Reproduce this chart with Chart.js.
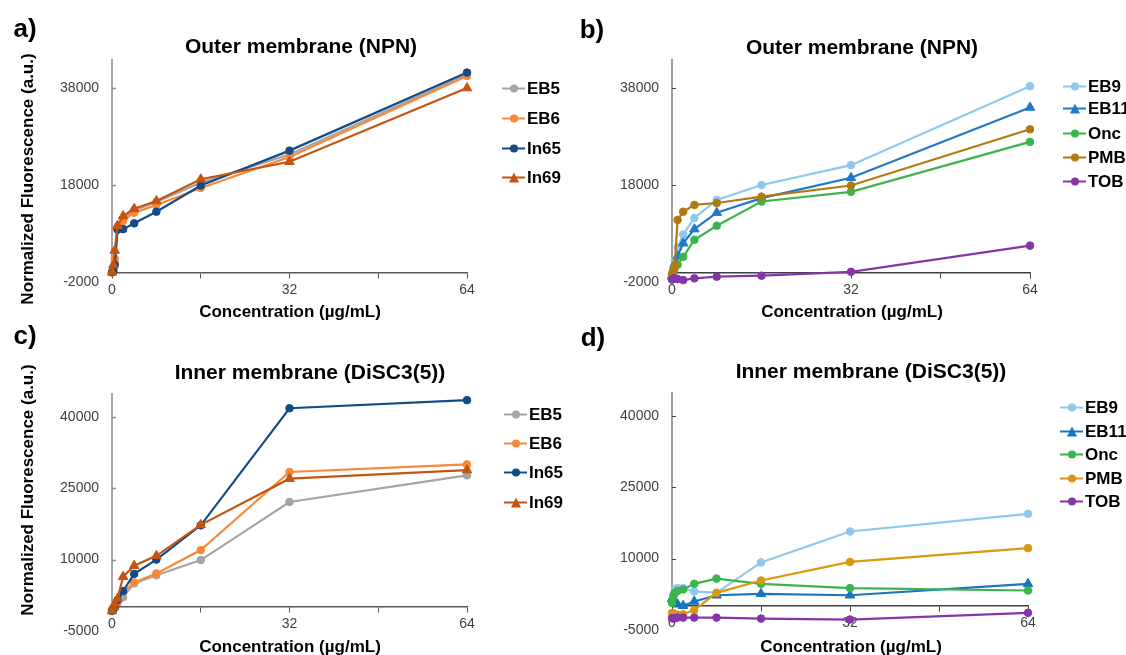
<!DOCTYPE html>
<html>
<head>
<meta charset="utf-8">
<script src="https://cdn.jsdelivr.net/npm/chart.js@4.4.0/dist/chart.umd.min.js"></script>
<style>
    body { margin: 0; background: #fff; }
    #wrap { position: relative; width: 1126px; height: 655px; overflow: hidden; font-family: "Liberation Sans", Arial, sans-serif; }
    #wrap canvas { position: absolute; left: 0; top: 0; }
    .lbl { position: absolute; font-weight: bold; color: #000; white-space: nowrap; transform: translate(-50%, -50%); line-height: 1; }
    .letter { font-size: 26px; }
    .title { font-size: 21px; }
    .xt { font-size: 17px; }
    .yt { font-size: 17px; transform: translate(-50%, -50%) rotate(-90deg); }
    .leg { position: absolute; font-size: 17px; font-weight: bold; white-space: nowrap; transform: translateY(-50%); display: flex; align-items: center; line-height: 1; }
    .leg .ln { position: relative; width: 23px; height: 2px; margin-right: 2px; }
    .leg .mk { position: absolute; left: 50%; top: 50%; transform: translate(-50%, -50%); }
</style>
</head>
<body>
<div id="wrap">
    <canvas id="chartA" width="1126" height="655"></canvas>
    <canvas id="chartB" width="1126" height="655"></canvas>
    <canvas id="chartC" width="1126" height="655"></canvas>
    <canvas id="chartD" width="1126" height="655"></canvas>
</div>
<script>
// Konsentrasi (µg/mL) dan tick sumbu
const concentrations = [0, 0.25, 0.5, 1, 2, 4, 8, 16, 32, 64];
const xTicks = [0, 16, 32, 48, 64];
const xLabelled = [0, 32, 64];
const yTicksOuter = [-2000, 18000, 38000];
const yTicksInner = [-5000, 10000, 25000, 40000];

// a) Outer membrane (NPN)
const outerEB5  = [0, 800, 2000, 9000, 11000, 12800, 14500, 18500, 24300, 40800];
const outerEB6  = [0, 1000, 2800, 9500, 10600, 12300, 13900, 17400, 23800, 40500];
const outerIn65 = [0, 300, 1500, 8800, 8900, 10100, 12500, 17900, 25100, 41200];
const outerIn69 = [0, 1500, 4500, 9600, 11600, 13100, 14700, 19200, 22800, 38000];

// b) Outer membrane (NPN)
const outerEB9  = [-500, 1000, 2500, 5100, 7800, 11200, 14900, 18000, 22100, 38400];
const outerEB11 = [-800, 500, 1500, 3300, 6000, 8900, 12300, 15300, 19500, 34000];
const outerOnc  = [-1000, 300, 900, 1600, 3200, 6700, 9600, 14600, 16600, 26900];
const outerPMB  = [-300, 500, 1500, 10800, 12500, 13900, 14300, 15600, 17900, 29500];
const outerTOB  = [-1500, -1300, -1200, -1400, -1600, -1250, -900, -700, 100, 5500];

// c) Inner membrane (DiSC3(5))
const innerEB5  = [-500, 0, 500, 1000, 2100, 5000, 6700, 9900, 22100, 27700];
const innerEB6  = [-500, -300, 0, 1000, 3200, 5200, 7100, 12000, 28400, 30000];
const innerIn65 = [-800, -400, 0, 1500, 3400, 7000, 10000, 17200, 41800, 43500];
const innerIn69 = [-800, 0, 700, 1800, 6400, 8700, 10800, 17300, 27000, 28800];

// d) Inner membrane (DiSC3(5))
const innerEB9  = [1000, 2500, 3500, 3800, 3800, 3100, 2800, 9200, 15700, 19400];
const innerEB11 = [1500, 1200, 700, 400, 100, 1000, 2300, 2600, 2300, 4700];
const innerOnc  = [700, 2000, 2800, 3200, 3500, 4700, 5800, 4700, 3800, 3300];
const innerPMB  = [-1400, -1500, -1700, -1800, -1700, -800, 2800, 5400, 9300, 12200];
const innerTOB  = [-2500, -2600, -2500, -2400, -2400, -2400, -2400, -2600, -2800, -1400];

// garis sumbu Y (berhenti di y = 0) dan tick ke dalam
const axisLines = {
    id: 'axisLines',
    beforeDatasetsDraw(chart, args, opts) {
        const { ctx, chartArea } = chart;
        const y = chart.scales.y;
        const y0 = y.getPixelForValue(0);
        ctx.save();
        ctx.strokeStyle = opts.color;
        ctx.lineWidth = opts.width;
        ctx.beginPath();
        ctx.moveTo(chartArea.left, chartArea.top);
        ctx.lineTo(chartArea.left, y0);
        y.ticks.forEach(t => {
            if (t.value > 0) {
                const py = Math.round(y.getPixelForValue(t.value)) + 0.5;
                ctx.moveTo(chartArea.left, py);
                ctx.lineTo(chartArea.left + 4, py);
            }
        });
        ctx.stroke();
        ctx.restore();
    }
};

function series(label, values, color, shape) {
    return { label, values, color, shape };
}

function makePanel(id, area, yMin, yMax, yTicks, list, axis) {
    const n = list.length;
    const datasets = list.map((s, i) => ({
        label: s.label,
        data: concentrations.map((c, k) => ({ x: c, y: s.values[k] })),
        borderColor: s.color,
        backgroundColor: s.color,
        pointBackgroundColor: s.color,
        pointBorderColor: s.color,
        pointStyle: s.shape,
        pointRadius: s.shape === 'triangle' ? 5.5 : 3.8,
        pointBorderWidth: 1,
        borderWidth: 2.2,
        tension: 0,
        clip: false,
        order: n - i
    }));

    new Chart(document.getElementById(id), {
        type: 'line',
        data: { datasets },
        options: {
            responsive: false,
            animation: false,
            layout: { padding: { left: 0, top: area.top, right: 1126 - area.right, bottom: 655 - area.bottom } },
            plugins: {
                legend: { display: false },
                tooltip: { enabled: false },
                axisLines: { color: axis.y, width: axis.yWidth }
            },
            scales: {
                x: {
                    type: 'linear',
                    position: { y: 0 },
                    min: 0,
                    max: 64,
                    afterBuildTicks: s => { s.ticks = xTicks.map(v => ({ value: v })); },
                    grid: { display: true, drawOnChartArea: false, drawTicks: true, tickLength: 5, color: axis.x, lineWidth: 1 },
                    border: { display: true, color: axis.x, width: 1.5 },
                    ticks: {
                        padding: 4,
                        maxRotation: 0,
                        autoSkip: false,
                        color: '#404040',
                        font: { family: '"Liberation Sans", Arial, sans-serif', size: 14 },
                        callback: v => xLabelled.includes(v) ? String(v) : ''
                    }
                },
                y: {
                    type: 'linear',
                    min: yMin,
                    max: yMax,
                    afterBuildTicks: s => { s.ticks = yTicks.map(v => ({ value: v })); },
                    afterFit: s => { s.width = area.left; },
                    grid: { display: false, drawTicks: false },
                    border: { display: false },
                    ticks: {
                        padding: 13,
                        color: '#404040',
                        font: { family: '"Liberation Sans", Arial, sans-serif', size: 14 },
                        callback: v => String(v)
                    }
                }
            }
        },
        plugins: [axisLines]
    });
}

function addText(cls, text, x, y) {
    const el = document.createElement('div');
    el.className = 'lbl ' + cls;
    el.textContent = text;
    el.style.left = x + 'px';
    el.style.top = y + 'px';
    document.getElementById('wrap').appendChild(el);
}

function addLegend(list, x, ys) {
    list.forEach((s, i) => {
        const item = document.createElement('div');
        item.className = 'leg';
        item.style.left = x + 'px';
        item.style.top = ys[i] + 'px';
        const ln = document.createElement('span');
        ln.className = 'ln';
        ln.style.background = s.color;
        const mk = document.createElement('span');
        mk.className = 'mk';
        if (s.shape === 'triangle') {
            Object.assign(mk.style, { width: '0', height: '0', borderLeft: '5.5px solid transparent', borderRight: '5.5px solid transparent', borderBottom: '10px solid ' + s.color });
        } else {
            Object.assign(mk.style, { width: '8px', height: '8px', borderRadius: '50%', background: s.color });
        }
        ln.appendChild(mk);
        item.appendChild(ln);
        item.appendChild(document.createTextNode(s.label));
        document.getElementById('wrap').appendChild(item);
    });
}

const seriesA = [
    series('EB5', outerEB5, '#a5a5a5', 'circle'),
    series('EB6', outerEB6, '#f8883a', 'circle'),
    series('In65', outerIn65, '#134b86', 'circle'),
    series('In69', outerIn69, '#c4540f', 'triangle')
];
const seriesB = [
    series('EB9', outerEB9, '#8ec8ec', 'circle'),
    series('EB11', outerEB11, '#1f78c8', 'triangle'),
    series('Onc', outerOnc, '#3cb44b', 'circle'),
    series('PMB', outerPMB, '#b07a12', 'circle'),
    series('TOB', outerTOB, '#8436a8', 'circle')
];
const seriesC = [
    series('EB5', innerEB5, '#a5a5a5', 'circle'),
    series('EB6', innerEB6, '#f8883a', 'circle'),
    series('In65', innerIn65, '#134b86', 'circle'),
    series('In69', innerIn69, '#c4540f', 'triangle')
];
const seriesD = [
    series('EB9', innerEB9, '#8ec8ec', 'circle'),
    series('EB11', innerEB11, '#1a74c0', 'triangle'),
    series('Onc', innerOnc, '#3cb44b', 'circle'),
    series('PMB', innerPMB, '#d8980f', 'circle'),
    series('TOB', innerTOB, '#8436a8', 'circle')
];

const greyAxis = { x: '#595959', y: '#8c8c8c', yWidth: 1.5 };
const darkAxis = { x: '#404040', y: '#404040', yWidth: 1 };

makePanel('chartA', { left: 112, right: 467, top: 59, bottom: 282 }, -2000, 44000, yTicksOuter, seriesA, greyAxis);
makePanel('chartB', { left: 672, right: 1030, top: 59, bottom: 282 }, -2000, 44000, yTicksOuter, seriesB, darkAxis);
makePanel('chartC', { left: 112, right: 467, top: 393, bottom: 631 }, -5000, 45000, yTicksInner, seriesC, greyAxis);
makePanel('chartD', { left: 672, right: 1028, top: 392, bottom: 630 }, -5000, 45000, yTicksInner, seriesD, darkAxis);

// label panel, judul dan judul sumbu
addText('letter', 'a)', 25, 28);
addText('letter', 'b)', 592, 29);
addText('letter', 'c)', 25, 335);
addText('letter', 'd)', 593, 337);

addText('title', 'Outer membrane (NPN)', 301, 45);
addText('title', 'Outer membrane (NPN)', 862, 46);
addText('title', 'Inner membrane (DiSC3(5))', 310, 371);
addText('title', 'Inner membrane (DiSC3(5))', 871, 370);

addText('xt', 'Concentration (µg/mL)', 290, 311);
addText('xt', 'Concentration (µg/mL)', 852, 311);
addText('xt', 'Concentration (µg/mL)', 290, 646);
addText('xt', 'Concentration (µg/mL)', 851, 646);

addText('yt', 'Normalized Fluorescence (a.u.)', 27, 179);
addText('yt', 'Normalized Fluorescence (a.u.)', 27, 490);

addLegend(seriesA, 502, [88, 118, 148, 177]);
addLegend(seriesB, 1063, [86, 108, 133, 157, 181]);
addLegend(seriesC, 504, [414, 443, 472, 502]);
addLegend(seriesD, 1060, [407, 431, 454, 478, 501]);
</script>
</body>
</html>
